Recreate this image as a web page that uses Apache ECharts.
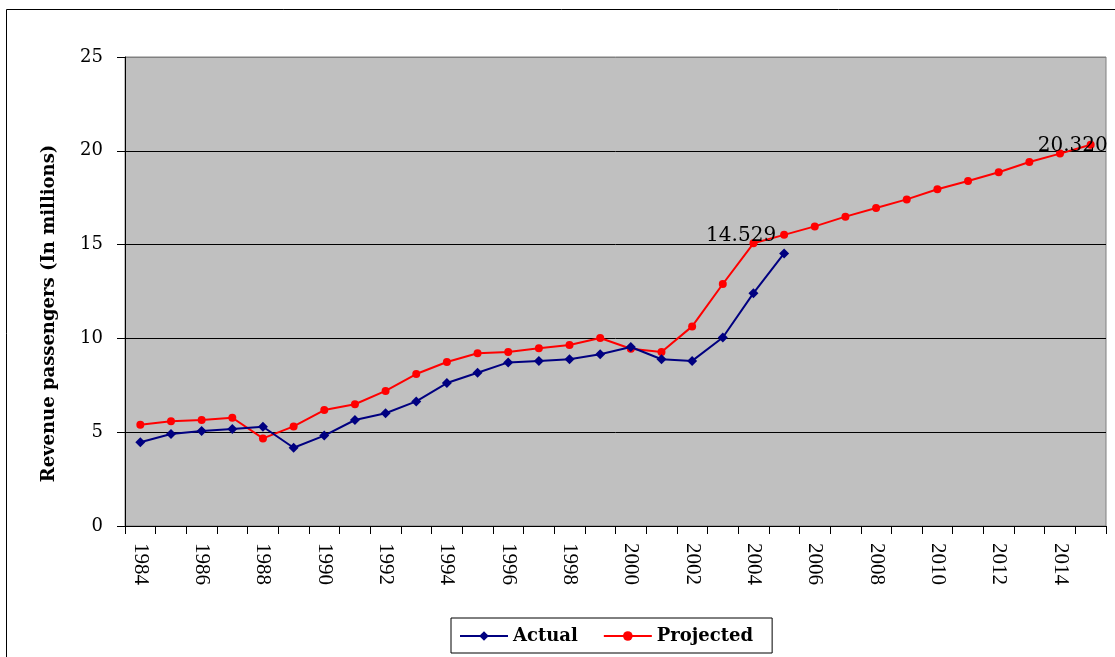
<!DOCTYPE html>
<html>
<head>
<meta charset="utf-8">
<title>Revenue passengers</title>
<script src="https://cdn.jsdelivr.net/npm/echarts@6/dist/echarts.min.js"></script>
<style>
  html, body { margin: 0; padding: 0; background: #fff; }
  #chart { width: 1115px; height: 657px; }
</style>
</head>
<body>
<div id="chart"></div>
<script>
// Years on the category axis
var years = [];
for (var y = 1984; y <= 2015; y++) years.push(String(y));

// Revenue passengers, in millions
var actual = [4.46, 4.90, 5.06, 5.17, 5.29, 4.17, 4.82, 5.65, 6.01, 6.64,
              7.62, 8.17, 8.72, 8.80, 8.89, 9.16, 9.54, 8.89, 8.80, 10.05,
              12.41, 14.529];
var projected = [5.40, 5.58, 5.65, 5.77, 4.67, 5.31, 6.18, 6.49, 7.20, 8.10,
                 8.74, 9.21, 9.28, 9.47, 9.65, 10.02, 9.45, 9.28, 10.64, 12.90,
                 15.07, 15.52, 15.97, 16.49, 16.95, 17.41, 17.95, 18.39, 18.86, 19.40,
                 19.85, 20.32];

// Which point of each series carries a value label
var actualLabelIndex = 21;
var projectedLabelIndex = 31;

var serifWide = 'DejaVu Serif';
var serifTimes = 'Liberation Serif';

function withLabel(values, idx, offset) {
  return values.map(function (v, i) {
    if (i !== idx) return v;
    return {
      value: v,
      label: {
        show: true,
        position: 'top',
        distance: 0,
        offset: offset,
        formatter: function (p) { return Number(p.value).toFixed(3); },
        fontFamily: serifWide,
        fontSize: 20,
        color: '#000'
      }
    };
  });
}

var chart = echarts.init(document.getElementById('chart'));
chart.setOption({
  animation: false,
  backgroundColor: '#fff',
  graphic: [{
    type: 'rect',
    shape: { x: 6.5, y: 9.5, width: 1300, height: 800 },
    style: { fill: 'none', stroke: '#000', lineWidth: 1 },
    silent: true
  }],
  grid: {
    left: 125, top: 57, right: 9, bottom: 131,
    show: true,
    backgroundColor: '#c0c0c0',
    borderColor: '#808080',
    borderWidth: 1
  },
  legend: {
    left: 451, top: 618,
    backgroundColor: '#fff',
    borderColor: '#000',
    borderWidth: 1,
    borderRadius: 0,
    padding: [9, 19, 8, 8],
    itemGap: 25,
    itemWidth: 48,
    itemHeight: 12,
    textStyle: { fontFamily: serifWide, fontWeight: 'bold', fontSize: 18, color: '#000' },
    data: ['Actual', 'Projected']
  },
  xAxis: {
    type: 'category',
    data: years,
    boundaryGap: true,
    axisLine: { lineStyle: { color: '#000', width: 1 } },
    axisTick: { show: true, interval: 0, length: 8, lineStyle: { color: '#000' } },
    axisLabel: {
      interval: 1,
      rotate: -90,
      margin: 17,
      fontFamily: serifTimes,
      fontSize: 21,
      color: '#000'
    },
    splitLine: { show: false }
  },
  yAxis: {
    type: 'value',
    min: 0, max: 25, interval: 5,
    name: 'Revenue passengers (In millions)',
    nameLocation: 'middle',
    nameGap: 67,
    nameTextStyle: {
      fontFamily: serifWide, fontWeight: 'bold', fontSize: 18, color: '#000',
      padding: [0, 44, 0, 0]
    },
    axisLine: { show: true, lineStyle: { color: '#000', width: 1 } },
    axisTick: { show: true, length: 8, lineStyle: { color: '#000' } },
    axisLabel: { margin: 22, fontFamily: serifWide, fontSize: 18, color: '#000' },
    splitLine: { show: true, lineStyle: { color: ['#000', '#000', '#000', '#000', '#000', '#808080'], width: 1 } }
  },
  series: [{
    name: 'Actual',
    type: 'line',
    data: withLabel(actual, actualLabelIndex, [-43, -3]),
    symbol: 'diamond',
    symbolSize: 10,
    color: '#000080',
    lineStyle: { color: '#000080', width: 2 },
    itemStyle: { color: '#000080' },
    z: 3
  }, {
    name: 'Projected',
    type: 'line',
    data: withLabel(projected, projectedLabelIndex, [-18, 15]),
    symbol: 'circle',
    symbolSize: 8,
    color: '#ff0000',
    lineStyle: { color: '#ff0000', width: 2 },
    itemStyle: { color: '#ff0000' },
    z: 2
  }]
});
</script>
</body>
</html>
